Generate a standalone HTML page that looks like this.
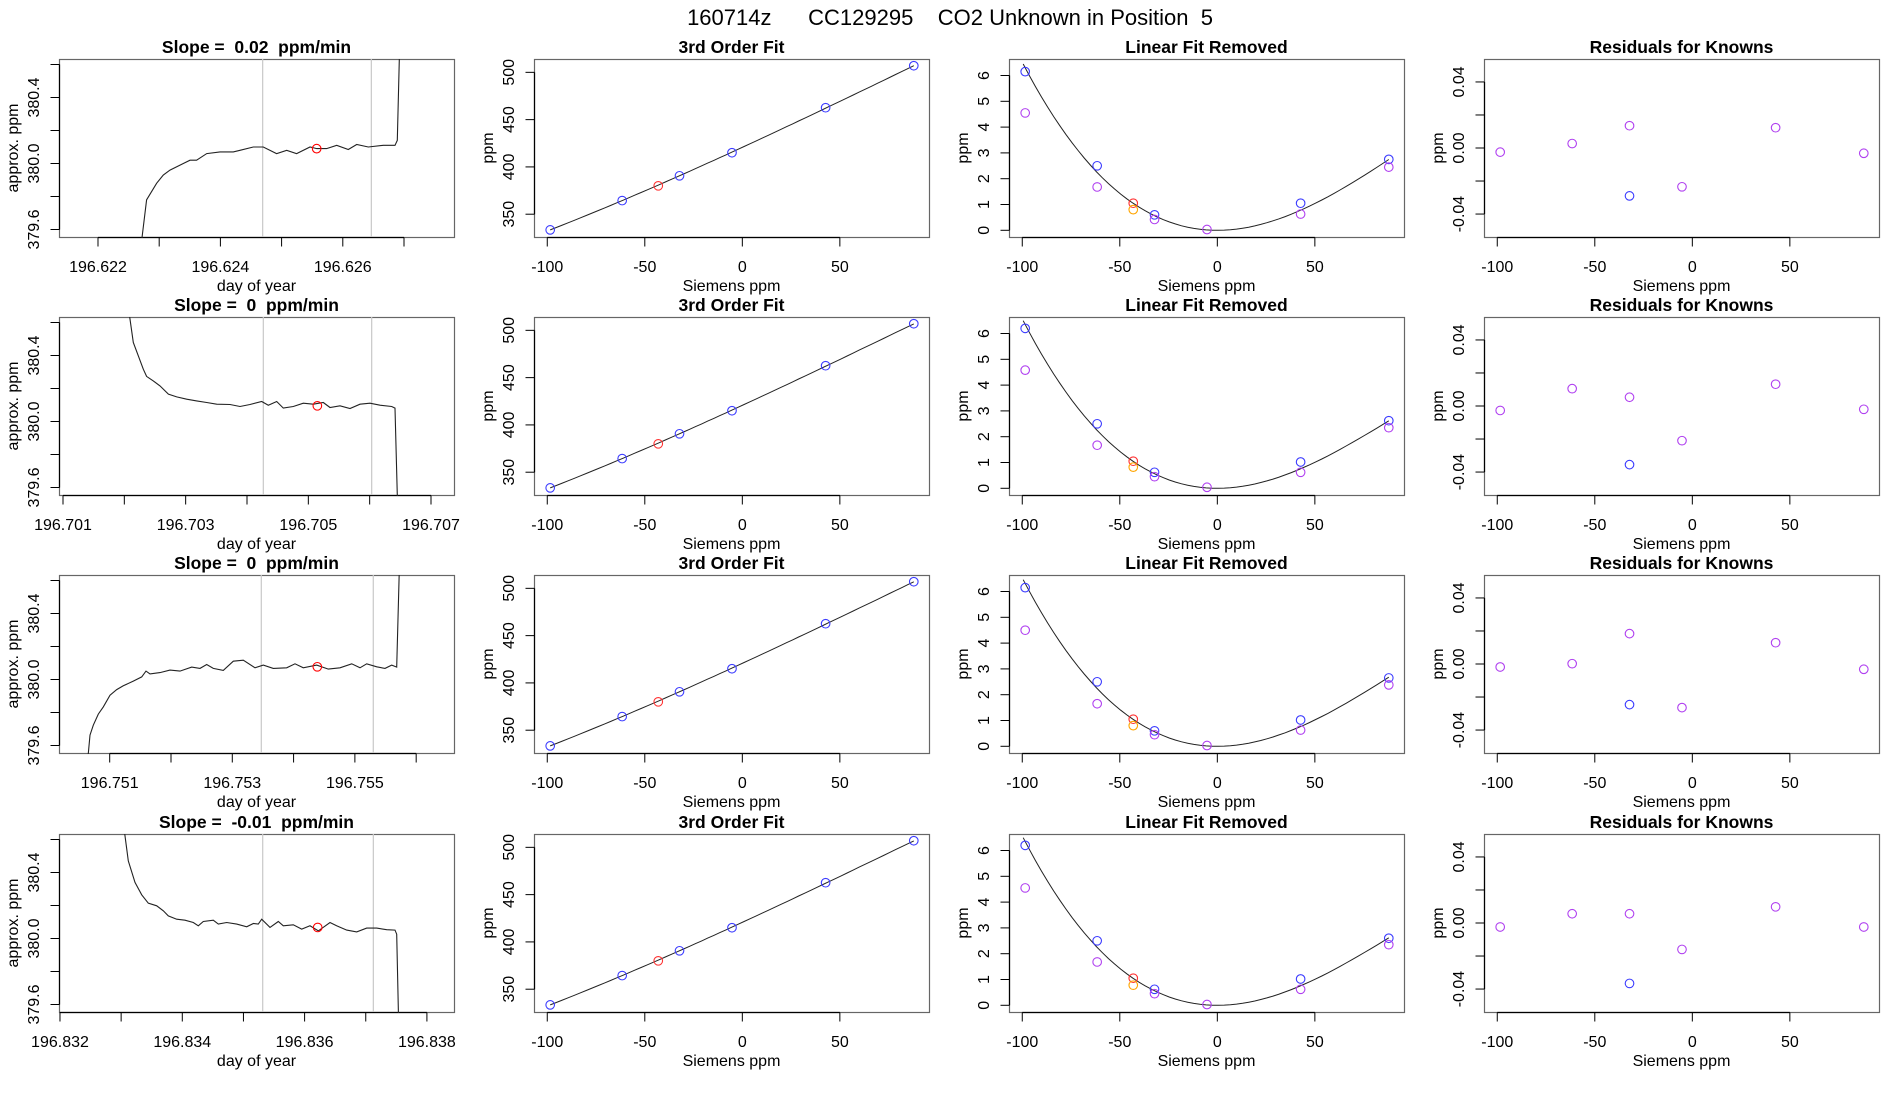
<!DOCTYPE html>
<html><head><meta charset="utf-8"><style>
html,body{margin:0;padding:0;background:#fff;}
svg{display:block;font-family:"Liberation Sans",Arial,sans-serif;}
</style></head><body>
<svg id="chart" width="1900" height="1100" viewBox="0 0 1900 1100" xmlns="http://www.w3.org/2000/svg">
<rect width="1900" height="1100" fill="#fff"/>
<text x="950" y="25" font-size="22" text-anchor="middle" style="white-space:pre" xml:space="preserve">160714z      CC129295    CO2 Unknown in Position  5</text>
</svg>
<script>
// ---------- data ----------
const slopeLabels = ["0.02", "0", "0", "-0.01"];
const tBase = [196.622, 196.701, 196.751, 196.832];
const tFirstTick = [196.622, 196.701, 196.751, 196.832];
const tTickCount = [6, 7, 6, 7];
const tLimLo = [-637, -65, -827, -16];      // micro-day offsets
const tLimHi = [5817, 6375, 5617, 6443];
const tOffset1 = [686,795,958,1067,1176,1394,1503,1612,1776,1993,2211,2320,2538,2701,2919,3083,3246,3464,3573,3736,3900,4090,4227,4417,4662,4853,4891,4935];
const ppm1 = [379.45,379.78,379.88,379.93,379.96,380.00,380.02,380.02,380.06,380.07,380.07,380.08,380.10,380.10,380.06,380.08,380.06,380.10,380.09,380.09,380.11,380.085,380.115,380.10,380.11,380.11,380.14,380.8];
const tOffset2 = [1081,1147,1228,1310,1364,1473,1582,1718,1854,2017,2180,2343,2506,2723,2886,3049,3240,3348,3484,3592,3755,3918,4081,4244,4353,4517,4680,4843,5006,5169,5359,5413,5468];
const ppm2 = [380.65,380.479,380.398,380.317,380.273,380.246,380.216,380.166,380.149,380.135,380.125,380.115,380.105,380.103,380.091,380.103,380.121,380.099,380.121,380.081,380.091,380.111,380.105,380.115,380.085,380.095,380.079,380.105,380.111,380.099,380.091,380.081,379.3];
const tOffset3 = [-387,-321,-267,-186,-104,5,114,222,385,522,592,657,820,984,1147,1338,1473,1582,1690,1854,2017,2180,2370,2506,2669,2887,3023,3159,3377,3567,3757,3948,4084,4193,4356,4491,4600,4682,4735];
const ppm3 = [379.4,379.663,379.723,379.79,379.834,379.905,379.939,379.962,379.99,380.016,380.051,380.034,380.042,380.057,380.051,380.075,380.067,380.091,380.067,380.055,380.111,380.117,380.071,380.087,380.067,380.071,380.095,380.071,380.087,380.063,380.071,380.095,380.071,380.095,380.077,380.067,380.087,380.075,380.8];
const tOffset4 = [1035,1117,1226,1336,1444,1581,1690,1771,1908,2044,2180,2262,2344,2507,2589,2726,2890,3053,3162,3243,3298,3434,3570,3652,3815,3952,4088,4224,4415,4524,4688,4852,5016,5179,5343,5478,5506,5549];
const ppm4 = [380.7,380.47,380.34,380.265,380.214,380.198,380.168,380.137,380.117,380.111,380.097,380.077,380.103,380.111,380.087,380.097,380.087,380.071,380.091,380.087,380.117,380.067,380.103,380.077,380.083,380.057,380.077,380.046,380.097,380.077,380.051,380.040,380.063,380.063,380.053,380.051,380.026,379.3];
const greyLineA = [2691, 3266, 2473, 3315];
const greyLineB = [4466, 5033, 4300, 5124];
const unkTime = [3573, 4147, 3387, 4214];
const unkPpm = [380.09, 380.095, 380.077, 380.067];

const knownX = [-98.5, -61.6, -32.2, -5.3, 42.7, 87.9];
const knownPpm = [333.4, 364.4, 390.6, 415.0, 462.6, 507.0];
const unknownX = -43.1;
const unknownPpm = [380.0, 380.0, 380.0, 380.0];
const fitC0 = [420.7, 420.7, 420.7, 420.7];
const fitC1 = [0.9504, 0.9504, 0.9504, 0.9504];
const fitA = [4.94e-4, 4.875e-4, 4.90e-4, 4.875e-4];
const fitB = [-1.578e-6, -1.6956e-6, -1.63e-6, -1.6956e-6];

const linBlue1 = [6.15, 2.5, 0.6, -0.5, 1.05, 2.75];
const linBlue2 = [6.2, 2.5, 0.62, -0.5, 1.02, 2.62];
const linBlue3 = [6.15, 2.5, 0.6, -0.5, 1.02, 2.65];
const linBlue4 = [6.2, 2.5, 0.62, -0.5, 1.02, 2.6];
const linPurple1 = [4.55, 1.68, 0.42, 0.03, 0.63, 2.45];
const linPurple2 = [4.58, 1.67, 0.45, 0.04, 0.62, 2.35];
const linPurple3 = [4.5, 1.65, 0.45, 0.03, 0.63, 2.38];
const linPurple4 = [4.55, 1.68, 0.45, 0.03, 0.62, 2.35];
const linUnkRed = [1.05, 1.05, 1.05, 1.05];
const linUnkOrange = [0.8, 0.82, 0.8, 0.78];

const resPurple1 = [-0.0025, 0.0027, 0.0135, -0.0235, 0.0123, -0.0032];
const resPurple2 = [-0.0027, 0.0105, 0.0053, -0.0210, 0.0132, -0.0020];
const resPurple3 = [-0.0018, 0.0002, 0.0184, -0.0264, 0.0129, -0.0032];
const resPurple4 = [-0.0024, 0.0056, 0.0056, -0.0160, 0.0098, -0.0024];
const resBlueX = -32.2;
const resBlue = [-0.029, -0.0355, -0.0246, -0.0366];

const tSeries = [[tOffset1,ppm1],[tOffset2,ppm2],[tOffset3,ppm3],[tOffset4,ppm4]];
const linBlue = [linBlue1, linBlue2, linBlue3, linBlue4];
const linPurple = [linPurple1, linPurple2, linPurple3, linPurple4];
const resPurple = [resPurple1, resPurple2, resPurple3, resPurple4];

// ---------- drawing ----------
const svg = document.getElementById('chart');
const NS = 'http://www.w3.org/2000/svg';
function mk(tag, attrs, parent) {
  const e = document.createElementNS(NS, tag);
  for (const k in attrs) e.setAttribute(k, attrs[k]);
  (parent || svg).appendChild(e);
  return e;
}
const rowTop = [59, 317, 575, 834];
const colLeft = [59, 534, 1009, 1484];
const W = 395, H = 178;
const sx = (lo, hi, L) => v => L + (v - lo) / (hi - lo) * W;
const sy = (lo, hi, T) => v => T + H - (v - lo) / (hi - lo) * H;

function frame(g, L, T, title, xlab, ylab, idx) {
  let t = mk('text', {x: L + W/2, y: T - 6, 'font-size': 17.5, 'font-weight': 'bold', 'text-anchor': 'middle', style: 'white-space:pre'}, g);
  
  
  t.textContent = title;
  let b = mk('rect', {x: L + 0.5, y: T + 0.5, width: W, height: H, fill: 'none', stroke: '#666', 'stroke-width': 1.2}, g);
  
  
  let xl = mk('text', {x: L + W/2, y: T + H + 54, 'font-size': 16, 'text-anchor': 'middle'}, g);
  
  
  xl.textContent = xlab;
  let yl = mk('text', {x: 0, y: 0, 'font-size': 16, 'text-anchor': 'middle', transform: `translate(${L - 41},${T + H/2}) rotate(-90)`}, g);
  
  
  yl.textContent = ylab;
  const cid = 'clip' + idx;
  const cp = mk('clipPath', {id: cid}, g);
  mk('rect', {x: L, y: T, width: W + 1, height: H + 1}, cp);
  return cid;
}
function xAxis(g, L, T, X, ticks, labels) {
  const y0 = T + H + 0.5;
  let a = mk('line', {x1: X(ticks[0]), x2: X(ticks[ticks.length-1]), y1: y0, y2: y0, stroke: '#000', 'stroke-width': 1.2}, g);
  
  
  ticks.forEach((v, i) => {
    const x = X(v);
    mk('line', {x1: x, x2: x, y1: y0, y2: y0 + 9, stroke: '#000', 'stroke-width': 1}, g);
    if (labels[i] !== '') {
      const t = mk('text', {x: x, y: T + H + 35, 'font-size': 16, 'text-anchor': 'middle'}, g);
      
      
      t.textContent = labels[i];
    }
  });
}
function yAxis(g, L, T, Y, ticks, labels) {
  const x0 = L + 0.5;
  let a = mk('line', {x1: x0, x2: x0, y1: Y(ticks[0]), y2: Y(ticks[ticks.length-1]), stroke: '#000', 'stroke-width': 1.2}, g);
  
  
  ticks.forEach((v, i) => {
    const y = Y(v);
    mk('line', {x1: x0 - 9, x2: x0, y1: y, y2: y, stroke: '#000', 'stroke-width': 1}, g);
    if (labels[i] !== '') {
      const t = mk('text', {x: 0, y: 0, 'font-size': 16, 'text-anchor': 'middle', transform: `translate(${L - 20},${y}) rotate(-90)`}, g);
      
      
      t.textContent = labels[i];
    }
  });
}
function circ(g, x, y, col, name) {
  const c = mk('circle', {cx: x, cy: y, r: 4.3, fill: 'none', stroke: col, 'stroke-width': 1.1}, g);
  
  
  return c;
}
const sTicksX = [-100, -50, 0, 50], sLabX = ['-100', '-50', '0', '50'];
const XLO = -106.8, XHI = 95.7;

for (let r = 0; r < 4; r++) {
  const T = rowTop[r];
  // ---- column 1: time series ----
  {
    const L = colLeft[0];
    const g = mk('g', {});
    
    
    const cid = frame(g, L, T, 'Slope =  ' + slopeLabels[r] + '  ppm/min', 'day of year', 'approx. ppm', 'a' + r);
    const X = sx(tLimLo[r], tLimHi[r], L);
    const Y = sy(379.5545, 380.6333, T);
    const ticks = [], labs = [];
    for (let i = 0; i < tTickCount[r]; i++) {
      const d = tFirstTick[r] + i * 0.001;
      ticks.push(Math.round((d - tBase[r]) * 1e6));
      labs.push(i % 2 === 0 ? d.toFixed(3) : '');
    }
    xAxis(g, L, T, X, ticks, labs);
    yAxis(g, L, T, Y, [379.6, 379.8, 380.0, 380.2, 380.4, 380.6], ['379.6', '', '380.0', '', '380.4', '']);
    const cg = mk('g', {'clip-path': `url(#${cid})`}, g);
    [greyLineA[r], greyLineB[r]].forEach(v => {
      const l = mk('line', {x1: X(v), x2: X(v), y1: T, y2: T + H, stroke: '#c8c8c8', 'stroke-width': 1.2}, cg);
      
      
    });
    const [tx, py] = tSeries[r];
    const pts = tx.map((v, i) => X(v).toFixed(1) + ',' + Y(py[i]).toFixed(1)).join(' ');
    const pl = mk('polyline', {points: pts, fill: 'none', stroke: '#222', 'stroke-width': 1.1}, cg);
    
    
    circ(cg, X(unkTime[r]), Y(unkPpm[r]), 'red', 'unknown-mean-point');
  }
  // ---- column 2: 3rd order fit ----
  {
    const L = colLeft[1];
    const g = mk('g', {});
    
    
    const cid = frame(g, L, T, '3rd Order Fit', 'Siemens ppm', 'ppm', 'b' + r);
    const X = sx(XLO, XHI, L);
    const Y = sy(325.9, 514.1, T);
    xAxis(g, L, T, X, sTicksX, sLabX);
    yAxis(g, L, T, Y, [350, 400, 450, 500], ['350', '400', '450', '500']);
    const cg = mk('g', {'clip-path': `url(#${cid})`}, g);
    const p = [];
    for (let i = 0; i <= 60; i++) {
      const v = knownX[0] + (knownX[5] - knownX[0]) * i / 60;
      const f = fitC0[r] + fitC1[r] * v + fitA[r] * v * v + fitB[r] * v * v * v;
      p.push(X(v).toFixed(1) + ',' + Y(f).toFixed(1));
    }
    const pl = mk('polyline', {points: p.join(' '), fill: 'none', stroke: '#222', 'stroke-width': 1}, cg);
    
    
    knownX.forEach((v, i) => circ(cg, X(v), Y(knownPpm[i]), '#3b3bff', 'known-point'));
    circ(cg, X(unknownX), Y(unknownPpm[r]), '#ff3030', 'unknown-point');
  }
  // ---- column 3: linear fit removed ----
  {
    const L = colLeft[2];
    const g = mk('g', {});
    
    
    const cid = frame(g, L, T, 'Linear Fit Removed', 'Siemens ppm', 'ppm', 'c' + r);
    const X = sx(XLO, XHI, L);
    const Y = sy(-0.26, 6.64, T);
    xAxis(g, L, T, X, sTicksX, sLabX);
    yAxis(g, L, T, Y, [0, 1, 2, 3, 4, 5, 6], ['0', '1', '2', '3', '4', '5', '6']);
    const cg = mk('g', {'clip-path': `url(#${cid})`}, g);
    const p = [];
    for (let i = 0; i <= 60; i++) {
      const v = -99.5 + (knownX[5] + 99.5) * i / 60;
      const f = fitA[r] * v * v + fitB[r] * v * v * v;
      p.push(X(v).toFixed(1) + ',' + Y(f).toFixed(1));
    }
    const pl = mk('polyline', {points: p.join(' '), fill: 'none', stroke: '#222', 'stroke-width': 1}, cg);
    
    
    knownX.forEach((v, i) => circ(cg, X(v), Y(linBlue[r][i]), '#3b3bff', 'known-point-blue'));
    knownX.forEach((v, i) => circ(cg, X(v), Y(linPurple[r][i]), '#b040f0', 'known-point-purple'));
    circ(cg, X(unknownX), Y(linUnkRed[r]), '#ff3030', 'unknown-point-red');
    circ(cg, X(unknownX), Y(linUnkOrange[r]), '#ffa500', 'unknown-point-orange');
  }
  // ---- column 4: residuals ----
  {
    const L = colLeft[3];
    const g = mk('g', {});
    
    
    const cid = frame(g, L, T, 'Residuals for Knowns', 'Siemens ppm', 'ppm', 'd' + r);
    const X = sx(XLO, XHI, L);
    const Y = sy(-0.0539, 0.0539, T);
    xAxis(g, L, T, X, sTicksX, sLabX);
    yAxis(g, L, T, Y, [-0.04, -0.02, 0, 0.02, 0.04], ['-0.04', '', '0.00', '', '0.04']);
    const cg = mk('g', {'clip-path': `url(#${cid})`}, g);
    knownX.forEach((v, i) => circ(cg, X(v), Y(resPurple[r][i]), '#b040f0', 'residual-point'));
    circ(cg, X(resBlueX), Y(resBlue[r]), '#3b3bff', 'residual-point-blue');
  }
}
</script>
</body></html>
